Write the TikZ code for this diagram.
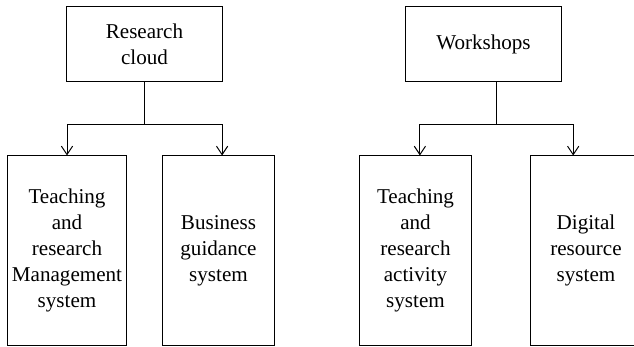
\documentclass[tikz,border=0pt]{standalone}
\usepackage{fontspec}
\setmainfont{Liberation Serif}
\usetikzlibrary{arrows.meta}
\begin{document}
\begin{tikzpicture}[x=0.025cm, y=-0.025cm, line width=0.7pt,
    font=\fontsize{15}{18.5}\selectfont,
    topbox/.style={draw, minimum width=3.875cm, minimum height=1.85cm, align=center, inner sep=1pt},
    subbox/.style={draw, minimum width=2.775cm, minimum height=4.725cm, align=center, inner sep=1pt},
    arr/.style={-{Straight Barb[length=6pt, width=8pt]}}]
    \useasboundingbox (0,0) rectangle (634,347);
    % Research cloud
    \node[topbox] (cloud) at (144.5,44) {Research\\cloud};
    \node[subbox, minimum width=2.95cm] (manage) at (67,250.5)
        {Teaching\\and\\research\\Management\\system};
    \node[subbox] (guide) at (218.5,250.5) {Business\\guidance\\system};

    \draw (cloud.south) -- ++(0,43) coordinate (cj);
    \draw[arr] (cj) -| (manage.north);
    \draw[arr] (cj) -| ([xshift=0.09cm]guide.north);

    % Workshops
    \node[topbox] (shop) at (483.5,44) {Workshops};
    \node[subbox] (activity) at (415.5,250.5)
        {Teaching\\and\\research\\activity\\system};
    \node[subbox] (digital) at (586,250.5) {Digital\\resource\\system};

    \draw ([xshift=0.32cm]shop.south) -- ++(0,43) coordinate (wj);
    \draw[arr] (wj) -| ([xshift=0.11cm]activity.north);
    \draw[arr] (wj) -| ([xshift=-0.32cm]digital.north);
\end{tikzpicture}
\end{document}
